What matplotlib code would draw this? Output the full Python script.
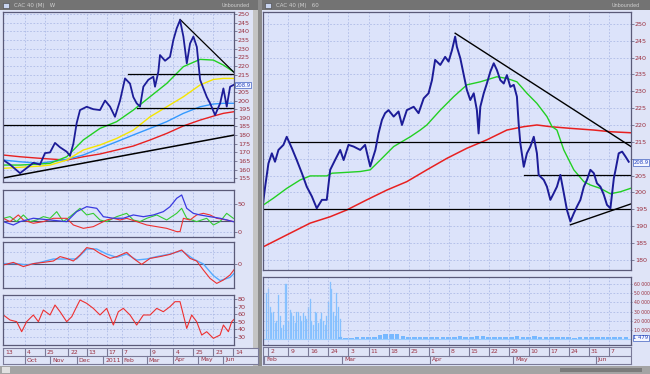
import numpy as np
import matplotlib
matplotlib.use("Agg")
import matplotlib.pyplot as plt
import matplotlib.transforms as mtransforms
from matplotlib.patches import Rectangle

# ---------------- left window: daily chart, x = days since 2010-09-03 ----------------
left_days = [0.4, 8.6, 20.9, 29.1, 37.2, 45.4, 51.5, 57.7, 63.8, 69.9,
             78.2, 82.2, 86.3, 90.4, 94.5, 102.7, 110.8, 119, 125.2, 131.3,
             137.4, 143.6, 149.7, 155.8, 159.9, 164, 168.1, 172.2, 178.3, 184.4,
             186.5, 190.6, 192.6, 198.8, 204.9, 209, 213.1, 217.2, 221.3, 225.5,
             229.5, 233.6, 237.8, 241.8, 245.9, 250.1, 254.1, 260.2, 266.4, 270.4,
             274.5, 278.6, 282.7]
left_close = [165.6, 163, 158, 161, 164, 163, 169.6, 170, 175.5, 173,
              170.4, 168, 175, 187, 194.5, 196.4, 195, 194.5, 200, 196.5,
              190.6, 200, 212.8, 209.8, 202, 198.4, 196.5, 208, 212, 213.8,
              208, 216.7, 226.3, 223, 225.3, 235, 241.7, 246.5, 237, 221.5,
              233, 237, 231, 212, 207, 202, 198.4, 191.6, 198.4, 207,
              196.5, 208, 209]

left_ma_days = [0.4, 20.9, 45.4, 57.7, 78.2, 98.5, 119, 139.5, 159.9, 180.4,
                200.9, 221.3, 241.8, 258.1, 270.4, 282.7]
left_ma_green = [162.7, 162.7, 163.3, 163.7, 167.5, 177.2, 183.9, 187.8, 194.5, 202.2,
                 209.9, 219.6, 223.8, 223.4, 220.5, 216.7]
left_ma_yellow = [160.8, 161.4, 162.1, 162.7, 165.6, 171.4, 174.3, 178.1, 182.9, 190.6,
                  196.4, 202.2, 209, 212.2, 212.8, 212.8]
left_ma_blue = [165.6, 164.6, 163.7, 164.6, 166, 168.5, 172.4, 176.2, 180.1, 183.9,
                187.8, 192.6, 196.4, 198, 198.4, 198.4]
left_ma_red = [168.5, 167.5, 166.6, 166.2, 165.6, 167.5, 169.1, 171.4, 173.7, 177.2,
               181, 185.3, 188.7, 191, 192.6, 193.5]

left_levels = [(153.4, 215.3), (164.4, 195.5), (0, 185.6)]   # (start day, price)
left_uptrend = ([0, 283.4], [155.2, 180])
left_downtrend = ([217.2, 283.4], [246.9, 216.3])
left_last = 208.9

# indicator 1 (ADX / DI)
adx_days = [0.4, 12.7, 20.9, 37.2, 57.7, 78.1, 90.4, 102.7, 115, 123.1,
            135.4, 147.6, 159.9, 172.2, 184.5, 196.7, 204.9, 213.1, 219.2, 225.4,
            233.5, 241.7, 254, 266.3, 282.6]
adx_vals = [18.4, 12.5, 18.4, 24.5, 21.4, 18.4, 36.3, 45.2, 42.3, 27.3,
            24.5, 24.5, 30.4, 27.3, 30.4, 36.3, 45.2, 60.2, 66.1, 42.3,
            33.3, 30.4, 27.3, 24.5, 18.4]
dip_days = [0.4, 8.6, 16.8, 25, 33.1, 41.3, 49.5, 57.7, 65.9, 74,
            82.2, 94.5, 102.7, 110.8, 119, 127.2, 139.5, 151.7, 159.9, 168.1,
            176.3, 188.6, 200.8, 213.1, 219.2, 225.4, 237.6, 249.9, 258.1, 266.3,
            274.4, 282.6]
dip_vals = [24.4, 27.4, 18.5, 30.4, 18.5, 21.4, 27.4, 24.4, 36.3, 18.5,
            27.4, 42.3, 30.4, 33.3, 21.4, 18.5, 27.4, 33.3, 21.4, 18.5,
            24.4, 30.4, 21.4, 33.3, 42.3, 24.4, 18.5, 24.4, 12.5, 18.5,
            33.3, 24.4]
dim_days = [0.4, 8.6, 18.8, 25, 37.2, 49.5, 61.8, 78.1, 86.3, 98.6,
            110.8, 119, 127.2, 135.4, 143.6, 151.7, 164, 176.3, 188.6, 200.8,
            213.1, 217.2, 221.3, 229.4, 237.6, 245.8, 254, 262.2, 274.4, 282.6]
dim_vals = [24.4, 18.5, 30.4, 21.4, 15.5, 18.5, 24.4, 24.4, 12.5, 6.5,
            9.5, 15.5, 21.4, 24.4, 21.4, 24.4, 18.5, 12.5, 9.5, 6.5,
            0.6, 0.6, 24.4, 21.4, 30.4, 33.3, 30.4, 24.4, 21.4, 18.5]

# indicator 2 (MACD style)
macd_days = [0.4, 12.7, 25, 37.2, 49.5, 61.8, 70, 78.1, 86.3, 94.5,
             102.7, 110.8, 119, 131.3, 139.5, 151.7, 159.9, 170.1, 180.4, 192.6,
             204.9, 219.2, 229.4, 237.6, 245.8, 254, 262.2, 270.4, 278.5, 284.7]
macd_vals = [-0.5, 0.8, -1.3, 0.2, 0.8, 1.5, 3.7, 2.8, 1.5, 4.5,
             8.2, 7.5, 5.3, 2.8, 3.7, 5.8, 2.8, -0.2, 2.8, 3.7,
             4.8, 7, 2.8, 1.5, -3, -7.2, -9.7, -8, -5.5, -2.2]
signal_days = [0.4, 16.8, 29, 45.4, 61.8, 78.1, 90.4, 102.7, 114.9, 127.2,
               139.5, 151.7, 164, 176.3, 188.6, 204.9, 219.2, 233.5, 245.8, 258.1,
               266.3, 278.5, 284.7]
signal_vals = [0.2, 0.2, -0.5, 0.8, 2.5, 2.5, 2.5, 7.5, 7.5, 5,
               3.3, 5, 2, 2.5, 3.7, 5, 6.7, 2.5, 0, -5.8,
               -8.3, -6.7, -4.2]

# indicator 3 (RSI)
rsi_days = [0.4, 8.6, 16.8, 22.9, 29, 37.2, 43.4, 49.5, 57.7, 63.8,
            70, 78.1, 84.3, 90.4, 94.5, 102.7, 110.8, 119, 127.2, 135.4,
            141.5, 147.6, 155.8, 164, 172.2, 180.4, 188.6, 196.7, 204.9, 211,
            217.2, 221.3, 225.4, 231.5, 237.6, 243.8, 249.9, 258.1, 266.3, 270.4,
            276.5, 280.6, 284.7]
rsi_vals = [59, 52.4, 50.2, 37, 50.2, 59, 50.2, 65.5, 59, 72.1,
            63.3, 50.2, 56.7, 70, 78.7, 74.3, 67.7, 59, 67.7, 45.8,
            63.3, 67.7, 59, 45.8, 59, 59, 67.7, 63.3, 70, 76.5,
            76.5, 59, 41.4, 59, 50.2, 32.6, 37, 28.3, 32.6, 45.8,
            37, 50.2, 54.6]

left_row1_days = [0, 27, 51.5, 80.1, 102.7, 127.2, 145.6, 180.4, 209, 233.5, 258.1, 282.6]
left_row1_labels = ['13', '4', '25', '22', '13', '17', '7', '9', '4', '25', '23', '14']
left_month_days = [27, 57.7, 90.4, 123.1, 145.6, 176.3, 209, 239.6, 270.3]
left_month_labels = ['Oct', 'Nov', 'Dec', '2011', 'Feb', 'Mar', 'Apr', 'May', 'Jun']

# ---------------- right window: Feb - Jun 2011, x = days since 2011-02-01 ----------------
right_days = [-0.8, -0.15, 1, 2.2, 3.3, 4.5, 6.25, 7.4, 9.2, 10.9,
              12.7, 14.4, 16.2, 17.9, 19.7, 21.4, 22.6, 24.3, 26.1, 27.3,
              29, 30.8, 33.1, 34.8, 36.6, 38.4, 39.5, 40.7, 41.8, 43,
              44.8, 46.5, 47.7, 49.4, 51.8, 53.5, 55.3, 57, 58.2, 59.3,
              61.1, 62.8, 64, 65.2, 66.3, 66.9, 68.1, 69.2, 70.4, 71.6,
              72.8, 73.9, 74.5, 75.1, 76.3, 77.4, 78.6, 79.8, 80.9, 82.1,
              83.3, 84.4, 85.6, 86.8, 87.9, 88.5, 89.1, 90.3, 91.4, 92.6,
              93.8, 94.9, 95.5, 97.3, 98.4, 99.6, 100.8, 101.9, 103.1, 104.3,
              105.4, 106.6, 107.8, 108.9, 110.1, 111.3, 112.4, 113.6, 114.8, 115.9,
              117.1, 118.3, 119.4, 120.6, 121.8, 122.4, 123.5, 124.7, 125.9, 127]
right_close = [197.3, 201.7, 208.6, 211.6, 209.1, 212.6, 214.1, 216.5, 213.1, 209.6,
               205.7, 201.7, 198.8, 195.3, 197.8, 197.8, 206.7, 209.6, 212.6, 209.6,
               214.1, 213.6, 212.6, 214.1, 207.7, 212.6, 217.5, 221.5, 223.5, 224.4,
               222.5, 224, 220, 224.4, 225.4, 223.5, 227.9, 229.4, 233.3, 239.3,
               237.8, 240.2, 238.8, 242.2, 246.2, 243.2, 239.8, 235.3, 230.4, 227.4,
               229.4, 224.4, 217.5, 225.4, 229.4, 232.3, 235.8, 238.3, 236.3, 233.3,
               232.3, 234.8, 231.3, 231.9, 228.4, 220.5, 214.6, 207.6, 211.6, 213.6,
               216.5, 211.6, 205.2, 203.7, 201.7, 197.8, 199.8, 201.7, 205.2, 199.8,
               194.8, 191.4, 193.8, 195.8, 197.8, 201.7, 203.7, 206.7, 205.7, 202.7,
               201.7, 199.3, 196.3, 195.3, 204.2, 206.7, 211.6, 212.1, 210.6, 209.1]

right_green_days = [-0.75, 2.75, 7.4, 12.1, 15.6, 21.4, 23.2, 27.3, 33.1, 36.6,
                    40.1, 44.8, 50.6, 54.1, 56.4, 61.1, 65.8, 70.4, 75.1, 80.9,
                    84.4, 87.9, 91.4, 94.9, 98.4, 100.2, 101.9, 104.3, 107.8, 111.3,
                    113.6, 117.1, 120.6, 124.1, 127.6]
right_green = [196.3, 198.3, 201.2, 203.7, 204.9, 204.9, 205.7, 205.9, 206.2, 206.7,
               209.6, 213.6, 216.5, 218.5, 220, 224.4, 228.4, 231.9, 232.8, 234.3,
               233.8, 232.8, 229.4, 226.4, 222.5, 219.5, 218.5, 212.6, 206.7, 203.2,
               202.2, 201.2, 199.6, 200.2, 201.2]
right_red_days = [-0.75, 7.4, 15.6, 22.6, 28.4, 35.4, 42.4, 49.4, 56.4, 63.4,
                  70.4, 77.4, 84.4, 90.3, 94.9, 99.6, 106.6, 114.8, 120.6, 127.6]
right_red = [183.9, 187.4, 190.9, 192.8, 194.8, 197.8, 200.7, 203.2, 206.7, 210.1,
             213.1, 215.6, 218.5, 219.5, 220, 219.5, 219, 218.5, 218, 217.7]

right_levels = [(8.6, 215), (90.3, 205.2), (-0.9, 195)]
right_downtrend = ([66.3, 127.8], [247.2, 213.6])
right_uptrend = ([106.6, 127.8], [190.4, 196.6])
right_last = 208.9

# volume: heavy intraday bars in February, thin afterwards
feb_volume = [50000, 55000, 35000, 28000, 30000, 18000, 20000, 48000, 25000, 12000,
              15000, 60000, 60000, 20000, 32000, 28000, 25000, 18000, 30000, 30000,
              25000, 20000, 28000, 25000, 22000, 35000, 44000, 20000, 15000, 30000,
              28000, 18000, 22000, 28000, 20000, 15000, 25000, 40000, 62000, 55000,
              30000, 25000, 50000, 35000, 22000, 3000]
later_volume = [2500, 1500, 1800, 2200, 2000, 2600, 3000, 4500, 5500, 5800,
                5200, 4000, 3000, 2500, 2200, 2800, 2400, 2000, 3000, 2600,
                2900, 3300, 2500, 2800, 3500, 3200, 2700, 3000, 2400, 2000,
                2600, 3200, 2300, 2800, 3400, 2900, 2500, 2200, 2600, 2000,
                2400, 1900, 2200, 2700, 2000, 2500, 3000, 2400, 2600, 2200, 2500]
last_volume = 1479

right_week_days = [1 + 7 * k for k in range(18)]
right_row1_labels = ['2', '9', '16', '24', '3', '11', '18', '25', '1', '8',
                     '15', '22', '29', '10', '17', '24', '31', '7']
right_month_days = [-0.5, 26.7, 57.6, 86.7, 115.4]
right_month_labels = ['Feb', 'Mar', 'Apr', 'May', 'Jun']

# ---------------- styling ----------------
W, H = 650, 374
BODY = '#dfe4f7'
PANEL = '#dce3fa'
GRID = '#aebbe6'
LABEL = '#9a3040'
FRAME = '#5a5a78'
NAVY = '#1c1c98'

fig = plt.figure(figsize=(W / 100, H / 100), dpi=100, facecolor='#b0b0b0')


def px_axes(x0, y0, x1, y1):
    return fig.add_axes([x0 / W, 1 - y1 / H, (x1 - x0) / W, (y1 - y0) / H])


# window chrome drawn in pixel space
bg = px_axes(0, 0, W, H)
bg.set_xlim(0, W)
bg.set_ylim(H, 0)
bg.axis('off')
for (x0, y0, x1, y1, c) in [(0, 10, 258, 366, BODY), (262, 10, 650, 366, BODY),
                            (0, 0, 258, 10, '#737373'), (262, 0, 650, 10, '#737373'),
                            (258, 0, 262, 374, '#8c8c8c'), (253, 10, 258, 366, '#c4c4c4'),
                            (0, 366, 650, 374, '#a4a4a4'), (560, 368, 642, 372, '#7c7c7c'),
                            (2, 367, 10, 373, '#e0e0e0')]:
    bg.add_patch(Rectangle((x0, y0), x1 - x0, y1 - y0, facecolor=c, edgecolor='none'))
bg.text(14, 5.5, 'CAC 40 (M)   W', fontsize=4, color='#d0d0d0', va='center')
bg.text(276, 5.5, 'CAC 40 (M)   60', fontsize=4, color='#d0d0d0', va='center')
bg.text(222, 5.5, 'Unbounded', fontsize=3.5, color='#d0d0d0', va='center')
bg.text(612, 5.5, 'Unbounded', fontsize=3.5, color='#d0d0d0', va='center')
bg.add_patch(Rectangle((3, 2.5), 6, 5, facecolor='#c8d4f0', edgecolor='#404040', lw=0.4))
bg.add_patch(Rectangle((265, 2.5), 6, 5, facecolor='#c8d4f0', edgecolor='#404040', lw=0.4))


def style_panel(ax, xlim, ylim, yticks, ylabels, xgrid, ygrid=None, lsize=4.6, tlen=2):
    ax.set_facecolor(PANEL)
    ax.set_xlim(xlim)
    ax.set_ylim(ylim)
    ax.yaxis.tick_right()
    ax.set_yticks(yticks)
    ax.set_yticklabels(ylabels)
    ax.tick_params(axis='y', labelsize=lsize, labelcolor=LABEL, length=tlen,
                   width=0.5, color=FRAME, pad=0.8)
    ax.set_xticks(xgrid)
    ax.tick_params(axis='x', length=0, labelbottom=False)
    ax.grid(axis='x', color=GRID, linestyle=(0, (2, 2)), linewidth=0.6)
    for g in (ygrid if ygrid is not None else yticks):
        ax.axhline(g, color=GRID, linestyle=(0, (2, 2)), linewidth=0.6, zorder=0.5)
    for s in ax.spines.values():
        s.set_color(FRAME)
        s.set_linewidth(0.9)


def last_tag(ax, value, text):
    tr = mtransforms.blended_transform_factory(ax.transAxes, ax.transData)
    ax.text(1.006, value, text, transform=tr, fontsize=3.8, color='#2040c0',
            va='center', ha='left', clip_on=False,
            bbox=dict(boxstyle='square,pad=0.12', facecolor='#f4f6ff',
                      edgecolor='#4060c0', linewidth=0.5))


def date_strip(ax, xlim, row1_pos, row1_lab, row2_pos, row2_lab):
    ax.set_xlim(xlim)
    ax.set_ylim(0, 2)
    ax.set_facecolor(BODY)
    ax.set_xticks([])
    ax.set_yticks([])
    ax.axhline(1, color='#7a7a98', lw=0.8)
    off = mtransforms.offset_copy(ax.transData, fig=fig, x=2, y=0, units='dots')
    for p, lab in zip(row1_pos, row1_lab):
        ax.plot([p, p], [1, 2], color='#7a7a98', lw=0.8)
        ax.text(p, 1.5, lab, transform=off, fontsize=4.4, color=LABEL, va='center')
    for p, lab in zip(row2_pos, row2_lab):
        ax.plot([p, p], [0, 1], color='#7a7a98', lw=0.8)
        ax.text(p, 0.5, lab, transform=off, fontsize=4.4, color=LABEL, va='center')
    for s in ax.spines.values():
        s.set_color('#7a7a98')
        s.set_linewidth(0.8)


# ---------------- left window panels ----------------
LX = (0, 283.4)
lgrid = left_row1_days[1:-1]

ax = px_axes(3, 12, 234, 182)
lticks = np.arange(155, 251, 5)
style_panel(ax, LX, (152.9, 251.2), lticks,
            ['' if v == 210 else str(v) for v in lticks], lgrid)
ax.plot(left_ma_days, left_ma_red, color='#e82020', lw=1.0)
ax.plot(left_ma_days, left_ma_blue, color='#3399ff', lw=1.0)
ax.plot(left_ma_days, left_ma_yellow, color='#f5e600', lw=1.0)
ax.plot(left_ma_days, left_ma_green, color='#22d022', lw=1.0)
for start, lvl in left_levels:
    ax.plot([start, LX[1]], [lvl, lvl], color='black', lw=0.9)
ax.plot(*left_uptrend, color='black', lw=1.1)
ax.plot(*left_downtrend, color='black', lw=0.9)
ax.plot(left_days, left_close, color=NAVY, lw=1.3)
last_tag(ax, left_last, '208.9')

ax = px_axes(3, 190, 234, 237)
style_panel(ax, LX, (-9, 75), [0, 50], ['0', '50'], lgrid, ygrid=[0, 50])
ax.axhline(20, color='#505070', lw=0.8)
ax.plot(dip_days, dip_vals, color='#33cc33', lw=0.8)
ax.plot(dim_days, dim_vals, color='#ee3030', lw=0.8)
ax.plot(adx_days, adx_vals, color='#3a3ae0', lw=0.9)

ax = px_axes(3, 242, 234, 288)
style_panel(ax, LX, (-12, 11), [0], ['0'], lgrid, ygrid=[-6, 6])
ax.axhline(0, color='#505070', lw=0.8)
ax.plot(signal_days, signal_vals, color='#55aaff', lw=1.0)
ax.plot(macd_days, macd_vals, color='#ee3030', lw=0.8)

ax = px_axes(3, 295, 234, 345)
style_panel(ax, LX, (19.5, 85.3), [30, 40, 50, 60, 70, 80],
            ['30', '40', '50', '60', '70', '80'], lgrid)
ax.axhline(50, color='#505070', lw=0.8)
ax.plot(rsi_days, rsi_vals, color='#ee3030', lw=0.8)

ax = px_axes(3, 348, 258, 364)
date_strip(ax, (0, 312.9), left_row1_days, left_row1_labels,
           left_month_days, left_month_labels)

# ---------------- right window panels ----------------
RX = (-0.9, 127.8)

ax = px_axes(263, 12, 631, 270)
rticks = np.arange(180, 251, 5)
style_panel(ax, RX, (177, 253.5), rticks,
            ['' if v == 210 else str(v) for v in rticks], right_week_days)
ax.plot(right_red_days, right_red, color='#e82020', lw=1.1)
ax.plot(right_green_days, right_green, color='#22d022', lw=1.0)
for start, lvl in right_levels:
    ax.plot([start, RX[1]], [lvl, lvl], color='black', lw=0.9)
ax.plot(*right_downtrend, color='black', lw=1.0)
ax.plot(*right_uptrend, color='black', lw=1.0)
ax.plot(right_days, right_close, color=NAVY, lw=1.4)
last_tag(ax, right_last, '208.9')

ax = px_axes(263, 277, 631, 345)
vt = [10000, 20000, 30000, 40000, 50000, 60000]
style_panel(ax, RX, (-6200, 67600), vt,
            ['10 000', '20 000', '30 000', '40 000', '50 000', '60 000'],
            right_week_days, lsize=3.3, tlen=1)
feb_x = 0.44 + 0.583 * np.arange(len(feb_volume))
later_x = 26 + 2 * np.arange(len(later_volume))
ax.bar(feb_x, feb_volume, width=0.4, color='#77b8ff', edgecolor='#99ccff', lw=0.3)
ax.bar(later_x, later_volume, width=1.6, color='#77b8ff', edgecolor='none')
ax.axhline(0, color='#99ccff', lw=0.8)
last_tag(ax, last_volume, '1 479')

ax = px_axes(263, 347, 631, 364)
date_strip(ax, RX, right_week_days, right_row1_labels,
           right_month_days, right_month_labels)

fig.savefig('out.png', dpi=100, facecolor=fig.get_facecolor())
